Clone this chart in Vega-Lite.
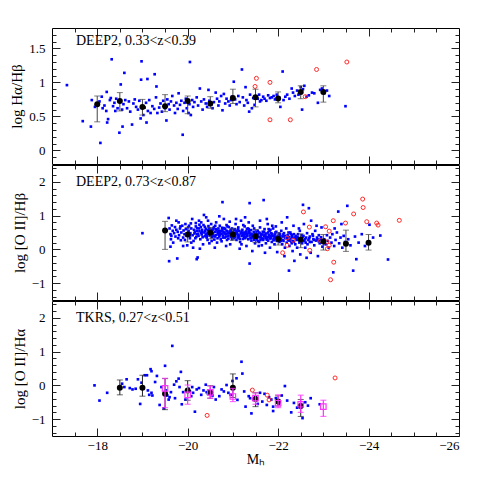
{
"$schema": "https://vega.github.io/schema/vega-lite/v6.json",
"padding": {"left": 9, "top": 27, "right": 26, "bottom": 5},
"spacing": -5,
"config": {
  "view": {"stroke": "black", "strokeWidth": 1},
  "font": "Liberation Serif",
  "axis": {"grid": false, "domain": false, "labelFont": "Liberation Serif", "titleFont": "Liberation Serif", "labelColor": "black", "titleColor": "black", "tickColor": "#222", "tickWidth": 1, "labelFontSize": 13, "titleFontSize": 15, "titleFontWeight": "normal"}
},
"datasets": {
"p1b": [{"m":-17.33,"v":0.96},{"m":-17.68,"v":0.43},{"m":-17.86,"v":0.35},{"m":-18.07,"v":0.11},{"m":-17.88,"v":0.74},{"m":-17.95,"v":0.64},{"m":-18.05,"v":0.72},{"m":-18.1,"v":0.79},{"m":-18.12,"v":0.62},{"m":-18.16,"v":0.66},{"m":-18.2,"v":0.58},{"m":-18.21,"v":0.86},{"m":-18.24,"v":0.46},{"m":-18.22,"v":0.41},{"m":-18.28,"v":0.74},{"m":-18.32,"v":1.34},{"m":-18.3,"v":0.77},{"m":-18.35,"v":0.65},{"m":-18.38,"v":0.7},{"m":-18.4,"v":0.58},{"m":-18.42,"v":0.76},{"m":-18.45,"v":0.62},{"m":-18.49,"v":0.26},{"m":-18.52,"v":0.97},{"m":-18.55,"v":0.6},{"m":-18.56,"v":0.35},{"m":-18.6,"v":1.14},{"m":-18.58,"v":0.68},{"m":-18.62,"v":0.74},{"m":-18.66,"v":0.62},{"m":-18.7,"v":0.72},{"m":-18.73,"v":0.57},{"m":-18.77,"v":0.38},{"m":-18.8,"v":0.69},{"m":-18.83,"v":0.75},{"m":-18.86,"v":0.64},{"m":-18.9,"v":0.6},{"m":-18.93,"v":0.73},{"m":-18.96,"v":0.47},{"m":-18.98,"v":1.31},{"m":-18.97,"v":1.04},{"m":-19.02,"v":0.52},{"m":-19.05,"v":0.63},{"m":-19.08,"v":0.7},{"m":-19.09,"v":0.41},{"m":-19.11,"v":1.05},{"m":-19.12,"v":0.58},{"m":-19.15,"v":0.74},{"m":-19.18,"v":0.55},{"m":-19.22,"v":0.65},{"m":-19.27,"v":1.12},{"m":-19.26,"v":0.61},{"m":-19.3,"v":0.78},{"m":-19.31,"v":0.94},{"m":-19.33,"v":0.55},{"m":-19.37,"v":0.63},{"m":-19.4,"v":0.69},{"m":-19.43,"v":0.57},{"m":-19.46,"v":0.73},{"m":-19.5,"v":0.62},{"m":-19.53,"v":0.44},{"m":-19.55,"v":0.75},{"m":-19.58,"v":0.68},{"m":-19.6,"v":0.6},{"m":-19.63,"v":0.72},{"m":-19.66,"v":0.8},{"m":-19.7,"v":0.66},{"m":-19.72,"v":0.55},{"m":-19.75,"v":0.7},{"m":-19.78,"v":0.61},{"m":-19.8,"v":0.84},{"m":-19.83,"v":0.67},{"m":-19.86,"v":0.73},{"m":-19.89,"v":0.23},{"m":-19.9,"v":0.58},{"m":-19.93,"v":0.7},{"m":-19.96,"v":0.76},{"m":-19.98,"v":0.62},{"m":-20.02,"v":0.55},{"m":-20.05,"v":1.3},{"m":-20.04,"v":0.68},{"m":-20.07,"v":0.52},{"m":-20.1,"v":0.74},{"m":-20.12,"v":0.64},{"m":-20.15,"v":0.71},{"m":-20.2,"v":0.78},{"m":-20.23,"v":0.66},{"m":-20.27,"v":0.91},{"m":-20.3,"v":0.72},{"m":-20.33,"v":0.6},{"m":-20.36,"v":0.75},{"m":-20.4,"v":0.69},{"m":-20.43,"v":0.64},{"m":-20.46,"v":0.89},{"m":-20.48,"v":0.73},{"m":-20.52,"v":0.67},{"m":-20.55,"v":0.62},{"m":-20.58,"v":0.71},{"m":-20.62,"v":0.85},{"m":-20.65,"v":0.76},{"m":-20.68,"v":0.66},{"m":-20.7,"v":0.72},{"m":-20.74,"v":0.8},{"m":-20.77,"v":0.59},{"m":-20.8,"v":0.83},{"m":-20.83,"v":0.69},{"m":-20.86,"v":0.76},{"m":-20.9,"v":0.72},{"m":-20.93,"v":0.66},{"m":-20.96,"v":0.74},{"m":-20.98,"v":0.79},{"m":-21.02,"v":1.01},{"m":-21.05,"v":0.75},{"m":-21.08,"v":0.68},{"m":-21.12,"v":0.8},{"m":-21.15,"v":0.71},{"m":-21.2,"v":1.19},{"m":-21.22,"v":0.78},{"m":-21.25,"v":0.66},{"m":-21.28,"v":0.93},{"m":-21.3,"v":0.74},{"m":-21.33,"v":0.7},{"m":-21.36,"v":0.57},{"m":-21.38,"v":0.82},{"m":-21.42,"v":0.62},{"m":-21.45,"v":0.77},{"m":-21.48,"v":0.67},{"m":-21.55,"v":0.76},{"m":-21.58,"v":0.82},{"m":-21.6,"v":0.72},{"m":-21.63,"v":0.74},{"m":-21.67,"v":0.79},{"m":-21.7,"v":0.76},{"m":-21.74,"v":0.73},{"m":-21.78,"v":0.81},{"m":-21.82,"v":0.77},{"m":-21.86,"v":0.78},{"m":-21.9,"v":0.8},{"m":-21.93,"v":0.75},{"m":-21.97,"v":0.82},{"m":-22.02,"v":0.78},{"m":-22.05,"v":0.64},{"m":-22.1,"v":1.16},{"m":-22.12,"v":0.74},{"m":-22.16,"v":0.79},{"m":-22.2,"v":0.82},{"m":-22.25,"v":0.76},{"m":-22.3,"v":0.91},{"m":-22.33,"v":0.85},{"m":-22.37,"v":0.8},{"m":-22.42,"v":0.88},{"m":-22.45,"v":0.82},{"m":-22.5,"v":0.93},{"m":-22.53,"v":0.6},{"m":-22.55,"v":0.9},{"m":-22.58,"v":0.95},{"m":-22.63,"v":0.79},{"m":-22.68,"v":0.81},{"m":-22.75,"v":0.85},{"m":-22.8,"v":0.84},{"m":-22.88,"v":0.7},{"m":-22.93,"v":0.89},{"m":-22.97,"v":0.91},{"m":-23.02,"v":0.84},{"m":-23.08,"v":0.88},{"m":-23.13,"v":0.8},{"m":-23.49,"v":0.65}],
"p1r": [{"m":-21.52,"v":1.06},{"m":-21.49,"v":0.94},{"m":-21.82,"v":1.0},{"m":-21.82,"v":0.45},{"m":-22.27,"v":0.45},{"m":-22.6,"v":0.79},{"m":-22.85,"v":1.19},{"m":-23.52,"v":1.3}],
"p1e": [{"m":-18.0,"v":0.68,"lo":0.42,"hi":0.8},{"m":-18.5,"v":0.725,"lo":0.58,"hi":0.85},{"m":-19.0,"v":0.64,"lo":0.52,"hi":0.75},{"m":-19.5,"v":0.65,"lo":0.57,"hi":0.82},{"m":-20.0,"v":0.725,"lo":0.54,"hi":0.8},{"m":-20.5,"v":0.69,"lo":0.62,"hi":0.79},{"m":-21.0,"v":0.77,"lo":0.69,"hi":0.9},{"m":-21.5,"v":0.78,"lo":0.64,"hi":0.9},{"m":-22.0,"v":0.765,"lo":0.7,"hi":0.86},{"m":-22.5,"v":0.86,"lo":0.76,"hi":0.95},{"m":-23.0,"v":0.86,"lo":0.71,"hi":0.95}],
"p2b": [{"m":-19.0,"v":0.48},{"m":-19.58,"v":0.93},{"m":-19.59,"v":-0.35},{"m":-19.6,"v":0.62},{"m":-19.62,"v":0.45},{"m":-19.63,"v":0.3},{"m":-19.65,"v":0.71},{"m":-19.67,"v":0.55},{"m":-19.68,"v":0.2},{"m":-19.7,"v":0.48},{"m":-19.72,"v":0.66},{"m":-19.73,"v":0.38},{"m":-19.75,"v":0.58},{"m":-19.77,"v":-0.27},{"m":-19.78,"v":0.52},{"m":-19.8,"v":0.8},{"m":-19.81,"v":0.42},{"m":-19.83,"v":0.62},{"m":-19.85,"v":0.27},{"m":-19.86,"v":0.5},{"m":-19.88,"v":0.7},{"m":-19.9,"v":0.35},{"m":-19.91,"v":0.56},{"m":-19.93,"v":0.45},{"m":-19.95,"v":0.75},{"m":-19.96,"v":0.6},{"m":-19.98,"v":0.4},{"m":-19.99,"v":0.12},{"m":-19.62,"v":0.08},{"m":-19.75,"v":0.85},{"m":-19.9,"v":0.1},
{"m":-20.02,"v":0.55},{"m":-20.03,"v":0.7},{"m":-20.05,"v":0.33},{"m":-20.06,"v":0.48},{"m":-20.08,"v":0.62},{"m":-20.1,"v":0.9},{"m":-20.11,"v":0.42},{"m":-20.13,"v":0.25},{"m":-20.14,"v":0.58},{"m":-20.16,"v":0.51},{"m":-20.18,"v":0.78},{"m":-20.19,"v":0.37},{"m":-20.2,"v":-0.29},{"m":-20.22,"v":-0.24},{"m":-20.21,"v":0.63},{"m":-20.23,"v":0.46},{"m":-20.25,"v":0.85},{"m":-20.26,"v":0.54},{"m":-20.28,"v":0.3},{"m":-20.29,"v":0.66},{"m":-20.31,"v":0.44},{"m":-20.32,"v":0.58},{"m":-20.34,"v":0.15},{"m":-20.35,"v":0.72},{"m":-20.37,"v":0.5},{"m":-20.38,"v":0.39},{"m":-20.4,"v":0.61},{"m":-20.41,"v":0.95},{"m":-20.43,"v":0.47},{"m":-20.44,"v":0.28},{"m":-20.46,"v":0.69},{"m":-20.47,"v":0.53},{"m":-20.49,"v":0.41},{"m":-20.5,"v":0.6},{"m":-20.12,"v":0.05},{"m":-20.27,"v":0.02},{"m":-20.36,"v":1.02},{"m":-20.45,"v":0.85},{"m":-20.08,"v":0.2},{"m":-20.3,"v":0.8},{"m":-20.42,"v":0.35},{"m":-20.18,"v":0.68},{"m":-20.24,"v":0.4},{"m":-20.39,"v":0.55},{"m":-20.48,"v":0.18},
{"m":-20.51,"v":0.45},{"m":-20.52,"v":0.75},{"m":-20.54,"v":0.36},{"m":-20.55,"v":0.58},{"m":-20.56,"v":0.48},{"m":-20.58,"v":0.66},{"m":-20.59,"v":0.29},{"m":-20.6,"v":0.52},{"m":-20.62,"v":0.42},{"m":-20.63,"v":0.8},{"m":-20.64,"v":0.57},{"m":-20.66,"v":0.33},{"m":-20.67,"v":0.48},{"m":-20.68,"v":0.62},{"m":-20.7,"v":0.38},{"m":-20.71,"v":0.7},{"m":-20.72,"v":0.46},{"m":-20.74,"v":0.55},{"m":-20.75,"v":0.24},{"m":-20.77,"v":1.4},{"m":-20.76,"v":0.64},{"m":-20.78,"v":0.41},{"m":-20.79,"v":0.51},{"m":-20.8,"v":0.9},{"m":-20.82,"v":0.35},{"m":-20.83,"v":0.6},{"m":-20.84,"v":0.45},{"m":-20.86,"v":0.72},{"m":-20.87,"v":0.28},{"m":-20.88,"v":0.53},{"m":-20.9,"v":0.4},{"m":-20.91,"v":0.66},{"m":-20.92,"v":0.49},{"m":-20.94,"v":0.15},{"m":-20.95,"v":0.58},{"m":-20.96,"v":0.37},{"m":-20.98,"v":0.62},{"m":-20.99,"v":0.44},{"m":-20.6,"v":0.05},{"m":-20.7,"v":0.98},{"m":-20.85,"v":0.1},{"m":-20.65,"v":0.2},{"m":-20.93,"v":0.82},{"m":-20.57,"v":0.62},{"m":-20.73,"v":0.3},{"m":-20.81,"v":0.5},{"m":-20.97,"v":0.52},{"m":-20.53,"v":0.25},{"m":-20.88,"v":0.68},{"m":-20.69,"v":0.55},
{"m":-21.01,"v":0.5},{"m":-21.02,"v":0.33},{"m":-21.04,"v":0.6},{"m":-21.05,"v":0.42},{"m":-21.06,"v":0.75},{"m":-21.08,"v":0.28},{"m":-21.09,"v":0.52},{"m":-21.1,"v":0.45},{"m":-21.12,"v":0.65},{"m":-21.13,"v":0.38},{"m":-21.14,"v":0.55},{"m":-21.16,"v":0.22},{"m":-21.17,"v":0.47},{"m":-21.18,"v":0.85},{"m":-21.2,"v":0.4},{"m":-21.21,"v":0.58},{"m":-21.22,"v":0.31},{"m":-21.24,"v":0.5},{"m":-21.25,"v":0.43},{"m":-21.26,"v":0.68},{"m":-21.28,"v":0.36},{"m":-21.29,"v":0.53},{"m":-21.3,"v":0.1},{"m":-21.32,"v":0.46},{"m":-21.33,"v":0.62},{"m":-21.34,"v":0.3},{"m":-21.36,"v":0.49},{"m":-21.37,"v":1.37},{"m":-21.37,"v":-0.42},{"m":-21.38,"v":0.41},{"m":-21.4,"v":0.57},{"m":-21.41,"v":0.26},{"m":-21.42,"v":0.44},{"m":-21.44,"v":0.7},{"m":-21.45,"v":0.35},{"m":-21.46,"v":0.52},{"m":-21.48,"v":0.4},{"m":-21.49,"v":0.18},{"m":-21.5,"v":0.48},{"m":-21.15,"v":0.02},{"m":-21.27,"v":0.95},{"m":-21.35,"v":0.8},{"m":-21.43,"v":-0.05},{"m":-21.07,"v":0.9},{"m":-21.19,"v":0.15},{"m":-21.31,"v":0.6},{"m":-21.47,"v":0.62},{"m":-21.11,"v":0.35},{"m":-21.23,"v":0.72},{"m":-21.39,"v":0.33},
{"m":-21.52,"v":0.42},{"m":-21.53,"v":0.3},{"m":-21.55,"v":0.55},{"m":-21.56,"v":0.38},{"m":-21.58,"v":0.22},{"m":-21.59,"v":0.48},{"m":-21.6,"v":0.65},{"m":-21.62,"v":0.35},{"m":-21.63,"v":0.45},{"m":-21.64,"v":0.12},{"m":-21.66,"v":0.52},{"m":-21.67,"v":0.28},{"m":-21.68,"v":1.46},{"m":-21.69,"v":0.4},{"m":-21.7,"v":0.6},{"m":-21.72,"v":0.33},{"m":-21.73,"v":0.18},{"m":-21.74,"v":0.47},{"m":-21.76,"v":0.37},{"m":-21.77,"v":0.75},{"m":-21.78,"v":0.26},{"m":-21.8,"v":0.43},{"m":-21.81,"v":0.55},{"m":-21.82,"v":0.05},{"m":-21.84,"v":0.35},{"m":-21.85,"v":0.48},{"m":-21.86,"v":0.22},{"m":-21.88,"v":0.4},{"m":-21.89,"v":0.62},{"m":-21.9,"v":0.3},{"m":-21.92,"v":0.15},{"m":-21.93,"v":0.44},{"m":-21.94,"v":0.36},{"m":-21.96,"v":0.52},{"m":-21.97,"v":0.25},{"m":-21.98,"v":-0.08},{"m":-21.99,"v":0.4},{"m":-21.6,"v":0.85},{"m":-21.75,"v":0.9},{"m":-21.87,"v":0.7},{"m":-21.57,"v":0.1},{"m":-21.71,"v":-0.1},{"m":-21.83,"v":0.58},{"m":-21.95,"v":0.68},{"m":-21.65,"v":0.32},
{"m":-22.01,"v":0.35},{"m":-22.03,"v":0.22},{"m":-22.04,"v":0.45},{"m":-22.06,"v":0.3},{"m":-22.07,"v":0.55},{"m":-22.09,"v":0.15},{"m":-22.1,"v":0.38},{"m":-22.12,"v":0.25},{"m":-22.13,"v":0.48},{"m":-22.15,"v":0.05},{"m":-22.16,"v":0.33},{"m":-22.18,"v":0.62},{"m":-22.19,"v":0.2},{"m":-22.21,"v":0.42},{"m":-22.22,"v":0.28},{"m":-22.24,"v":-0.63},{"m":-22.24,"v":0.36},{"m":-22.25,"v":0.1},{"m":-22.27,"v":0.5},{"m":-22.28,"v":0.3},{"m":-22.3,"v":0.18},{"m":-22.31,"v":0.43},{"m":-22.33,"v":0.25},{"m":-22.34,"v":0.7},{"m":-22.36,"v":-0.34},{"m":-22.36,"v":0.35},{"m":-22.38,"v":0.15},{"m":-22.39,"v":0.4},{"m":-22.41,"v":0.28},{"m":-22.42,"v":0.05},{"m":-22.44,"v":0.45},{"m":-22.45,"v":0.32},{"m":-22.47,"v":0.2},{"m":-22.48,"v":0.55},{"m":-22.49,"v":-0.15},{"m":-22.08,"v":0.8},{"m":-22.2,"v":0.95},{"m":-22.32,"v":-0.05},{"m":-22.46,"v":0.62},{"m":-22.14,"v":-0.2},
{"m":-22.51,"v":0.3},{"m":-22.53,"v":0.18},{"m":-22.55,"v":1.32},{"m":-22.56,"v":0.4},{"m":-22.58,"v":0.25},{"m":-22.6,"v":0.05},{"m":-22.62,"v":0.35},{"m":-22.64,"v":0.48},{"m":-22.65,"v":0.15},{"m":-22.68,"v":1.22},{"m":-22.67,"v":0.28},{"m":-22.7,"v":0.38},{"m":-22.72,"v":-0.1},{"m":-22.74,"v":0.22},{"m":-22.76,"v":0.45},{"m":-22.78,"v":0.3},{"m":-22.8,"v":0.12},{"m":-22.82,"v":0.55},{"m":-22.84,"v":0.26},{"m":-22.86,"v":0.35},{"m":-22.88,"v":-0.2},{"m":-22.9,"v":0.42},{"m":-22.92,"v":0.18},{"m":-22.94,"v":0.3},{"m":-22.96,"v":0.65},{"m":-22.98,"v":0.08},{"m":-22.57,"v":0.75},{"m":-22.73,"v":0.85},{"m":-22.85,"v":0.7},{"m":-22.63,"v":-0.25},
{"m":-23.02,"v":0.3},{"m":-23.05,"v":0.15},{"m":-23.08,"v":0.42},{"m":-23.1,"v":0.25},{"m":-23.12,"v":0.05},{"m":-23.15,"v":0.35},{"m":-23.18,"v":0.2},{"m":-23.22,"v":-0.68},{"m":-23.2,"v":0.45},{"m":-23.24,"v":0.1},{"m":-23.27,"v":0.28},{"m":-23.3,"v":0.5},{"m":-23.33,"v":1.12},{"m":-23.35,"v":0.18},{"m":-23.38,"v":0.35},{"m":-23.42,"v":0.05},{"m":-23.45,"v":0.4},{"m":-23.48,"v":0.22},{"m":-23.53,"v":1.29},{"m":-23.55,"v":0.3},{"m":-23.6,"v":0.12},{"m":-23.66,"v":-0.63},{"m":-23.7,"v":0.38},{"m":-23.73,"v":-0.29},{"m":-23.78,"v":0.2},{"m":-23.85,"v":0.45},{"m":-23.92,"v":0.1},{"m":-24.02,"v":0.73},{"m":-24.1,"v":0.35},{"m":-24.26,"v":0.41},{"m":-24.43,"v":-0.3},{"m":-23.25,"v":0.62},{"m":-23.4,"v":0.75},
{"m":-20.05,"v":0.41},{"m":-20.15,"v":0.47},{"m":-20.2,"v":0.55},{"m":-20.3,"v":0.49},{"m":-20.33,"v":0.36},{"m":-20.4,"v":0.44},{"m":-20.45,"v":0.57},{"m":-20.55,"v":0.43},{"m":-20.6,"v":0.38},{"m":-20.62,"v":0.6},{"m":-20.68,"v":0.44},{"m":-20.72,"v":0.52},{"m":-20.78,"v":0.35},{"m":-20.82,"v":0.47},{"m":-20.86,"v":0.55},{"m":-20.9,"v":0.32},{"m":-20.95,"v":0.42},{"m":-21.0,"v":0.38},{"m":-21.03,"v":0.46},{"m":-21.08,"v":0.55},{"m":-21.12,"v":0.42},{"m":-21.15,"v":0.31},{"m":-21.2,"v":0.48},{"m":-21.25,"v":0.36},{"m":-21.28,"v":0.45},{"m":-21.32,"v":0.39},{"m":-21.36,"v":0.55},{"m":-21.4,"v":0.34},{"m":-21.45,"v":0.44},{"m":-21.5,"v":0.3},{"m":-21.55,"v":0.46},{"m":-21.58,"v":0.36},{"m":-21.62,"v":0.41},{"m":-21.66,"v":0.32},{"m":-21.7,"v":0.44},{"m":-21.75,"v":0.29},{"m":-21.8,"v":0.36},{"m":-21.85,"v":0.4},{"m":-21.9,"v":0.27},{"m":-21.95,"v":0.34},{"m":-22.0,"v":0.3},{"m":-22.05,"v":0.38},{"m":-22.1,"v":0.28},{"m":-22.15,"v":0.4},{"m":-22.2,"v":0.33},{"m":-22.25,"v":0.26},{"m":-22.3,"v":0.36},{"m":-22.35,"v":0.22},{"m":-22.4,"v":0.33},{"m":-22.5,"v":0.25},{"m":-22.6,"v":0.3},{"m":-22.7,"v":0.22},{"m":-22.8,"v":0.28},{"m":-22.9,"v":0.24},{"m":-20.25,"v":0.62},{"m":-20.5,"v":0.5},{"m":-20.75,"v":0.46},{"m":-21.05,"v":0.36},{"m":-21.3,"v":0.51},{"m":-21.55,"v":0.25},{"m":-21.78,"v":0.5},{"m":-22.03,"v":0.42},{"m":-22.28,"v":0.45},{"m":-22.55,"v":0.38},
{"m":-19.64,"v":0.4},{"m":-19.79,"v":0.33},{"m":-19.84,"v":0.68},{"m":-19.94,"v":0.28},{"m":-20.01,"v":0.65},{"m":-20.07,"v":0.77},{"m":-20.17,"v":0.33},{"m":-20.21,"v":0.45},{"m":-20.26,"v":0.73},{"m":-20.32,"v":0.52},{"m":-20.38,"v":0.67},{"m":-20.43,"v":0.4},{"m":-20.47,"v":0.62},{"m":-20.53,"v":0.55},{"m":-20.57,"v":0.4},{"m":-20.61,"v":0.7},{"m":-20.66,"v":0.51},{"m":-20.71,"v":0.42},{"m":-20.77,"v":0.58},{"m":-20.81,"v":0.63},{"m":-20.85,"v":0.38},{"m":-20.89,"v":0.47},{"m":-20.94,"v":0.53},{"m":-20.98,"v":0.3},{"m":-21.03,"v":0.57},{"m":-21.07,"v":0.48},{"m":-21.11,"v":0.6},{"m":-21.14,"v":0.4},{"m":-21.19,"v":0.52},{"m":-21.23,"v":0.44},{"m":-21.27,"v":0.33},{"m":-21.31,"v":0.42},{"m":-21.35,"v":0.6},{"m":-21.39,"v":0.47},{"m":-21.43,"v":0.38},{"m":-21.47,"v":0.28},{"m":-21.51,"v":0.52},{"m":-21.54,"v":0.4},{"m":-21.58,"v":0.5},{"m":-21.61,"v":0.28},{"m":-21.65,"v":0.44},{"m":-21.69,"v":0.52},{"m":-21.72,"v":0.4},{"m":-21.76,"v":0.3},{"m":-21.79,"v":0.6},{"m":-21.83,"v":0.32},{"m":-21.87,"v":0.45},{"m":-21.91,"v":0.38},{"m":-21.94,"v":0.5},{"m":-21.98,"v":0.33},{"m":-22.02,"v":0.47},{"m":-22.06,"v":0.25},{"m":-22.11,"v":0.44},{"m":-22.17,"v":0.35},{"m":-22.23,"v":0.5},{"m":-22.29,"v":0.24},{"m":-22.35,"v":0.45},{"m":-22.43,"v":0.37},{"m":-22.52,"v":0.42},{"m":-22.61,"v":0.2},{"m":-22.69,"v":0.33},{"m":-22.77,"v":0.4},{"m":-22.87,"v":0.3},{"m":-22.95,"v":0.36}],
"p2r": [{"m":-23.87,"v":1.49},{"m":-23.88,"v":1.24},{"m":-23.67,"v":1.05},{"m":-23.96,"v":0.82},{"m":-24.18,"v":0.78},{"m":-24.21,"v":0.72},{"m":-24.68,"v":0.86},{"m":-23.49,"v":0.78},{"m":-23.22,"v":0.85},{"m":-23.05,"v":0.67},{"m":-22.56,"v":1.11},{"m":-22.69,"v":0.66},{"m":-23.13,"v":0.54},{"m":-22.94,"v":0.26},{"m":-23.08,"v":0.22},{"m":-23.13,"v":0.12},{"m":-23.09,"v":0.02},{"m":-23.23,"v":-0.38},{"m":-23.16,"v":-0.9},{"m":-22.7,"v":-0.03},{"m":-22.2,"v":0.12},{"m":-22.1,"v":-0.1},{"m":-22.2,"v":0.34},{"m":-22.33,"v":0.27}],
"p2e": [{"m":-19.5,"v":0.56,"lo":0.0,"hi":0.83},{"m":-20.0,"v":0.44,"lo":0.22,"hi":0.65},{"m":-20.5,"v":0.49,"lo":0.31,"hi":0.65},{"m":-21.0,"v":0.44,"lo":0.27,"hi":0.61},{"m":-21.5,"v":0.39,"lo":0.2,"hi":0.59},{"m":-22.0,"v":0.31,"lo":0.13,"hi":0.49},{"m":-22.5,"v":0.29,"lo":0.05,"hi":0.46},{"m":-23.0,"v":0.23,"lo":-0.02,"hi":0.44},{"m":-23.5,"v":0.17,"lo":-0.06,"hi":0.57},{"m":-24.0,"v":0.2,"lo":-0.02,"hi":0.44}],
"p3b": [{"m":-17.94,"v":0.0},{"m":-18.05,"v":-0.45},{"m":-18.22,"v":-0.22},{"m":-18.55,"v":0.05},{"m":-18.6,"v":-0.05},{"m":-18.65,"v":0.18},{"m":-18.72,"v":-0.08},{"m":-18.78,"v":-0.12},{"m":-18.85,"v":-0.1},{"m":-18.9,"v":0.18},{"m":-18.95,"v":-0.55},{"m":-18.98,"v":0.08},{"m":-19.02,"v":-0.08},{"m":-19.05,"v":0.3},{"m":-19.1,"v":0.3},{"m":-19.12,"v":-0.15},{"m":-19.15,"v":-0.28},{"m":-19.18,"v":0.48},{"m":-19.2,"v":0.42},{"m":-19.2,"v":-0.22},{"m":-19.22,"v":-0.3},{"m":-19.28,"v":0.1},{"m":-19.32,"v":0.28},{"m":-19.38,"v":-0.58},{"m":-19.42,"v":-0.05},{"m":-19.47,"v":-0.68},{"m":-19.5,"v":0.58},{"m":-19.52,"v":-0.15},{"m":-19.55,"v":-0.3},{"m":-19.58,"v":-0.42},{"m":-19.6,"v":-0.35},{"m":-19.63,"v":-0.2},{"m":-19.66,"v":1.17},{"m":-19.7,"v":0.02},{"m":-19.72,"v":-0.38},{"m":-19.75,"v":0.12},{"m":-19.8,"v":0.2},{"m":-19.82,"v":-0.05},{"m":-19.85,"v":0.4},{"m":-19.87,"v":-0.56},{"m":-19.9,"v":-0.2},{"m":-19.95,"v":-0.42},{"m":-20.02,"v":-0.1},{"m":-20.05,"v":-0.18},{"m":-20.08,"v":-0.32},{"m":-20.1,"v":-0.05},{"m":-20.12,"v":-0.22},{"m":-20.16,"v":-0.78},{"m":-20.2,"v":-0.12},{"m":-20.25,"v":-0.08},{"m":-20.3,"v":-0.28},{"m":-20.35,"v":-0.15},{"m":-20.4,"v":0.02},{"m":-20.42,"v":-0.2},{"m":-20.45,"v":-0.25},{"m":-20.55,"v":-0.3},{"m":-20.58,"v":-0.05},{"m":-20.62,"v":-0.42},{"m":-20.7,"v":-0.32},{"m":-20.75,"v":-0.12},{"m":-20.8,"v":-0.18},{"m":-20.86,"v":0.01},{"m":-20.9,"v":-0.22},{"m":-20.95,"v":-0.28},{"m":-20.99,"v":0.13},{"m":-21.08,"v":0.21},{"m":-21.1,"v":-0.43},{"m":-21.19,"v":0.7},{"m":-21.21,"v":0.35},{"m":-21.25,"v":-0.18},{"m":-21.28,"v":-0.63},{"m":-21.35,"v":-0.32},{"m":-21.38,"v":-0.38},{"m":-21.41,"v":-0.83},{"m":-21.45,"v":-0.42},{"m":-21.5,"v":-0.35},{"m":-21.55,"v":-0.55},{"m":-21.6,"v":-0.22},{"m":-21.65,"v":-0.48},{"m":-21.7,"v":-0.25},{"m":-21.75,"v":-0.58},{"m":-21.8,"v":-0.35},{"m":-21.85,"v":-0.42},{"m":-21.89,"v":-0.63},{"m":-21.89,"v":-0.76},{"m":-21.95,"v":-0.38},{"m":-22.02,"v":-0.55},{"m":-22.08,"v":-0.3},{"m":-22.15,"v":-0.02},{"m":-22.2,"v":-0.45},{"m":-22.29,"v":-0.8},{"m":-22.35,"v":-0.52},{"m":-22.42,"v":-0.66},{"m":-22.54,"v":-0.97},{"m":-22.6,"v":-0.5},{"m":-22.66,"v":-0.6},{"m":-22.72,"v":-0.38},{"m":-22.92,"v":-0.56}],
"p3r": [{"m":-20.43,"v":-0.89},{"m":-21.43,"v":-0.14},{"m":-21.76,"v":-0.29},{"m":-21.8,"v":-0.43},{"m":-23.26,"v":0.22}],
"p3e": [{"m":-18.5,"v":-0.07,"lo":-0.28,"hi":0.16},{"m":-19.0,"v":-0.07,"lo":-0.32,"hi":0.3},{"m":-19.5,"v":-0.25,"lo":-0.72,"hi":0.2},{"m":-20.0,"v":-0.15,"lo":-0.44,"hi":0.14},{"m":-20.5,"v":-0.21,"lo":-0.38,"hi":-0.01},{"m":-21.0,"v":-0.07,"lo":-0.36,"hi":0.34},{"m":-21.5,"v":-0.4,"lo":-0.63,"hi":-0.22},{"m":-22.0,"v":-0.48,"lo":-0.61,"hi":-0.31},{"m":-22.5,"v":-0.61,"lo":-0.92,"hi":-0.42}],
"p3m": [{"m":-19.5,"v":-0.09,"lo":-0.66,"hi":0.21},{"m":-20.0,"v":-0.28,"lo":-0.56,"hi":0.01},{"m":-20.5,"v":-0.21,"lo":-0.38,"hi":-0.02},{"m":-21.0,"v":-0.33,"lo":-0.48,"hi":-0.09},{"m":-21.5,"v":-0.38,"lo":-0.56,"hi":-0.22},{"m":-22.0,"v":-0.53,"lo":-0.66,"hi":-0.28},{"m":-22.5,"v":-0.56,"lo":-0.8,"hi":-0.29},{"m":-23.0,"v":-0.63,"lo":-0.92,"hi":-0.44}],
"t1": [{"m":-17.53,"v":1.61,"t":"DEEP2, 0.33<z<0.39"}],
"t2": [{"m":-17.53,"v":2.0,"t":"DEEP2, 0.73<z<0.87"}],
"t3": [{"m":-17.53,"v":2.0,"t":"TKRS, 0.27<z<0.51"}]
},
"vconcat": [
{
 "width": 407, "height": 136,
 "resolve": {"axis": {"x": "independent", "y": "independent"}},
 "layer": [
  {"data": {"name": "p1b"}, "mark": {"type": "point", "shape": "square", "filled": true, "size": 7, "color": "#0000ff", "opacity": 1},
   "encoding": {"x": {"field": "m", "type": "quantitative", "scale": {"domain": [-17, -26], "nice": false, "zero": false}, "axis": {"orient": "bottom", "values": [-18, -20, -22, -24], "tickSize": -8, "labels": false, "title": null}},
                "y": {"field": "v", "type": "quantitative", "scale": {"domain": [-0.2, 1.8], "nice": false, "zero": false}, "axis": {"orient": "left", "values": [0, 0.5, 1, 1.5], "format": "~g", "tickSize": -8, "labelPadding": 15, "title": "log Hα/Hβ", "titlePadding": 4}}}},
  {"data": {"name": "p1r"}, "mark": {"type": "point", "shape": "circle", "filled": false, "size": 16, "strokeWidth": 1, "color": "#ff2a2a", "opacity": 1},
   "encoding": {"x": {"field": "m", "type": "quantitative", "scale": {"domain": [-17, -26], "nice": false, "zero": false}, "axis": {"orient": "bottom", "values": [-17.5, -18.5, -19, -19.5, -20.5, -21, -21.5, -22.5, -23, -23.5, -24.5, -25, -25.5], "tickSize": -4, "labels": false, "title": null}},
                "y": {"field": "v", "type": "quantitative", "scale": {"domain": [-0.2, 1.8], "nice": false, "zero": false}, "axis": {"orient": "left", "values": [-0.1, 0.1, 0.2, 0.3, 0.4, 0.6, 0.7, 0.8, 0.9, 1.1, 1.2, 1.3, 1.4, 1.6, 1.7], "tickSize": -4, "labels": false, "title": null}}}},
  {"data": {"name": "p1e"}, "mark": {"type": "rule", "color": "#444", "strokeWidth": 1},
   "encoding": {"x": {"field": "m", "type": "quantitative", "scale": {"domain": [-17, -26], "nice": false, "zero": false}, "axis": {"orient": "top", "values": [-18, -20, -22, -24], "tickSize": -8, "labels": false, "title": null}},
                "y": {"field": "lo", "type": "quantitative", "scale": {"domain": [-0.2, 1.8], "nice": false, "zero": false}, "axis": {"orient": "right", "values": [0, 0.5, 1, 1.5], "tickSize": -8, "labels": false, "title": null}},
                "y2": {"field": "hi"}}},
  {"data": {"name": "p1e"}, "mark": {"type": "tick", "orient": "horizontal", "size": 6, "thickness": 1, "color": "#444"},
   "encoding": {"x": {"field": "m", "type": "quantitative", "scale": {"domain": [-17, -26], "nice": false, "zero": false}, "axis": {"orient": "top", "values": [-17.5, -18.5, -19, -19.5, -20.5, -21, -21.5, -22.5, -23, -23.5, -24.5, -25, -25.5], "tickSize": -4, "labels": false, "title": null}},
                "y": {"field": "lo", "type": "quantitative", "scale": {"domain": [-0.2, 1.8], "nice": false, "zero": false}, "axis": {"orient": "right", "values": [-0.1, 0.1, 0.2, 0.3, 0.4, 0.6, 0.7, 0.8, 0.9, 1.1, 1.2, 1.3, 1.4, 1.6, 1.7], "tickSize": -4, "labels": false, "title": null}}}},
  {"data": {"name": "p1e"}, "mark": {"type": "tick", "orient": "horizontal", "size": 6, "thickness": 1, "color": "#444"},
   "encoding": {"x": {"field": "m", "type": "quantitative", "scale": {"domain": [-17, -26], "nice": false, "zero": false}, "axis": null},
                "y": {"field": "hi", "type": "quantitative", "scale": {"domain": [-0.2, 1.8], "nice": false, "zero": false}, "axis": null}}},
  {"data": {"name": "p1e"}, "mark": {"type": "point", "shape": "circle", "filled": true, "size": 36, "color": "black", "opacity": 1},
   "encoding": {"x": {"field": "m", "type": "quantitative", "scale": {"domain": [-17, -26], "nice": false, "zero": false}, "axis": null},
                "y": {"field": "v", "type": "quantitative", "scale": {"domain": [-0.2, 1.8], "nice": false, "zero": false}, "axis": null}}},
  {"data": {"name": "t1"}, "mark": {"type": "text", "align": "left", "baseline": "middle", "font": "Liberation Serif", "fontSize": 14, "color": "black"},
   "encoding": {"x": {"field": "m", "type": "quantitative", "scale": {"domain": [-17, -26], "nice": false, "zero": false}, "axis": null},
                "y": {"field": "v", "type": "quantitative", "scale": {"domain": [-0.2, 1.8], "nice": false, "zero": false}, "axis": null},
                "text": {"field": "t"}}}
 ]
},
{
 "width": 407, "height": 135,
 "resolve": {"axis": {"x": "independent", "y": "independent"}},
 "layer": [
  {"data": {"name": "p2b"}, "mark": {"type": "point", "shape": "square", "filled": true, "size": 7, "color": "#0000ff", "opacity": 1},
   "encoding": {"x": {"field": "m", "type": "quantitative", "scale": {"domain": [-17, -26], "nice": false, "zero": false}, "axis": {"orient": "bottom", "values": [-18, -20, -22, -24], "tickSize": -8, "labels": false, "title": null}},
                "y": {"field": "v", "type": "quantitative", "scale": {"domain": [-1.5, 2.5], "nice": false, "zero": false}, "axis": {"orient": "left", "values": [-1, 0, 1, 2], "format": "~g", "tickSize": -8, "labelPadding": 15, "title": "log [O II]/Hβ", "titlePadding": 4}}}},
  {"data": {"name": "p2r"}, "mark": {"type": "point", "shape": "circle", "filled": false, "size": 16, "strokeWidth": 1, "color": "#ff2a2a", "opacity": 1},
   "encoding": {"x": {"field": "m", "type": "quantitative", "scale": {"domain": [-17, -26], "nice": false, "zero": false}, "axis": {"orient": "bottom", "values": [-17.5, -18.5, -19, -19.5, -20.5, -21, -21.5, -22.5, -23, -23.5, -24.5, -25, -25.5], "tickSize": -4, "labels": false, "title": null}},
                "y": {"field": "v", "type": "quantitative", "scale": {"domain": [-1.5, 2.5], "nice": false, "zero": false}, "axis": {"orient": "left", "values": [-1.4, -1.2, -0.8, -0.6, -0.4, -0.2, 0.2, 0.4, 0.6, 0.8, 1.2, 1.4, 1.6, 1.8, 2.2, 2.4], "tickSize": -4, "labels": false, "title": null}}}},
  {"data": {"name": "p2e"}, "mark": {"type": "rule", "color": "#444", "strokeWidth": 1},
   "encoding": {"x": {"field": "m", "type": "quantitative", "scale": {"domain": [-17, -26], "nice": false, "zero": false}, "axis": {"orient": "top", "values": [-18, -20, -22, -24], "tickSize": -8, "labels": false, "title": null}},
                "y": {"field": "lo", "type": "quantitative", "scale": {"domain": [-1.5, 2.5], "nice": false, "zero": false}, "axis": {"orient": "right", "values": [-1, 0, 1, 2], "tickSize": -8, "labels": false, "title": null}},
                "y2": {"field": "hi"}}},
  {"data": {"name": "p2e"}, "mark": {"type": "tick", "orient": "horizontal", "size": 6, "thickness": 1, "color": "#444"},
   "encoding": {"x": {"field": "m", "type": "quantitative", "scale": {"domain": [-17, -26], "nice": false, "zero": false}, "axis": {"orient": "top", "values": [-17.5, -18.5, -19, -19.5, -20.5, -21, -21.5, -22.5, -23, -23.5, -24.5, -25, -25.5], "tickSize": -4, "labels": false, "title": null}},
                "y": {"field": "lo", "type": "quantitative", "scale": {"domain": [-1.5, 2.5], "nice": false, "zero": false}, "axis": {"orient": "right", "values": [-1.4, -1.2, -0.8, -0.6, -0.4, -0.2, 0.2, 0.4, 0.6, 0.8, 1.2, 1.4, 1.6, 1.8, 2.2, 2.4], "tickSize": -4, "labels": false, "title": null}}}},
  {"data": {"name": "p2e"}, "mark": {"type": "tick", "orient": "horizontal", "size": 6, "thickness": 1, "color": "#444"},
   "encoding": {"x": {"field": "m", "type": "quantitative", "scale": {"domain": [-17, -26], "nice": false, "zero": false}, "axis": null},
                "y": {"field": "hi", "type": "quantitative", "scale": {"domain": [-1.5, 2.5], "nice": false, "zero": false}, "axis": null}}},
  {"data": {"name": "p2e"}, "mark": {"type": "point", "shape": "circle", "filled": true, "size": 36, "color": "black", "opacity": 1},
   "encoding": {"x": {"field": "m", "type": "quantitative", "scale": {"domain": [-17, -26], "nice": false, "zero": false}, "axis": null},
                "y": {"field": "v", "type": "quantitative", "scale": {"domain": [-1.5, 2.5], "nice": false, "zero": false}, "axis": null}}},
  {"data": {"name": "t2"}, "mark": {"type": "text", "align": "left", "baseline": "middle", "font": "Liberation Serif", "fontSize": 14, "color": "black"},
   "encoding": {"x": {"field": "m", "type": "quantitative", "scale": {"domain": [-17, -26], "nice": false, "zero": false}, "axis": null},
                "y": {"field": "v", "type": "quantitative", "scale": {"domain": [-1.5, 2.5], "nice": false, "zero": false}, "axis": null},
                "text": {"field": "t"}}}
 ]
},
{
 "width": 407, "height": 135,
 "resolve": {"axis": {"x": "independent", "y": "independent"}},
 "layer": [
  {"data": {"name": "p3b"}, "mark": {"type": "point", "shape": "square", "filled": true, "size": 7, "color": "#0000ff", "opacity": 1},
   "encoding": {"x": {"field": "m", "type": "quantitative", "scale": {"domain": [-17, -26], "nice": false, "zero": false}, "axis": {"orient": "bottom", "values": [-18, -20, -22, -24, -26], "format": "d", "tickSize": -8, "labelPadding": 11, "title": "Mₕ", "titlePadding": 0, "titleFontSize": 14}},
                "y": {"field": "v", "type": "quantitative", "scale": {"domain": [-1.5, 2.5], "nice": false, "zero": false}, "axis": {"orient": "left", "values": [-1, 0, 1, 2], "format": "~g", "tickSize": -8, "labelPadding": 15, "title": "log [O II]/Hα", "titlePadding": 4}}}},
  {"data": {"name": "p3r"}, "mark": {"type": "point", "shape": "circle", "filled": false, "size": 16, "strokeWidth": 1, "color": "#ff2a2a", "opacity": 1},
   "encoding": {"x": {"field": "m", "type": "quantitative", "scale": {"domain": [-17, -26], "nice": false, "zero": false}, "axis": {"orient": "bottom", "values": [-17.5, -18.5, -19, -19.5, -20.5, -21, -21.5, -22.5, -23, -23.5, -24.5, -25, -25.5], "tickSize": -4, "labels": false, "title": null}},
                "y": {"field": "v", "type": "quantitative", "scale": {"domain": [-1.5, 2.5], "nice": false, "zero": false}, "axis": {"orient": "left", "values": [-1.4, -1.2, -0.8, -0.6, -0.4, -0.2, 0.2, 0.4, 0.6, 0.8, 1.2, 1.4, 1.6, 1.8, 2.2, 2.4], "tickSize": -4, "labels": false, "title": null}}}},
  {"data": {"name": "p3e"}, "mark": {"type": "rule", "color": "#222", "strokeWidth": 1},
   "encoding": {"x": {"field": "m", "type": "quantitative", "scale": {"domain": [-17, -26], "nice": false, "zero": false}, "axis": {"orient": "top", "values": [-18, -20, -22, -24], "tickSize": -8, "labels": false, "title": null}},
                "y": {"field": "lo", "type": "quantitative", "scale": {"domain": [-1.5, 2.5], "nice": false, "zero": false}, "axis": {"orient": "right", "values": [-1, 0, 1, 2], "tickSize": -8, "labels": false, "title": null}},
                "y2": {"field": "hi"}}},
  {"data": {"name": "p3e"}, "mark": {"type": "tick", "orient": "horizontal", "size": 6, "thickness": 1, "color": "#222"},
   "encoding": {"x": {"field": "m", "type": "quantitative", "scale": {"domain": [-17, -26], "nice": false, "zero": false}, "axis": {"orient": "top", "values": [-17.5, -18.5, -19, -19.5, -20.5, -21, -21.5, -22.5, -23, -23.5, -24.5, -25, -25.5], "tickSize": -4, "labels": false, "title": null}},
                "y": {"field": "lo", "type": "quantitative", "scale": {"domain": [-1.5, 2.5], "nice": false, "zero": false}, "axis": {"orient": "right", "values": [-1.4, -1.2, -0.8, -0.6, -0.4, -0.2, 0.2, 0.4, 0.6, 0.8, 1.2, 1.4, 1.6, 1.8, 2.2, 2.4], "tickSize": -4, "labels": false, "title": null}}}},
  {"data": {"name": "p3e"}, "mark": {"type": "tick", "orient": "horizontal", "size": 6, "thickness": 1, "color": "#222"},
   "encoding": {"x": {"field": "m", "type": "quantitative", "scale": {"domain": [-17, -26], "nice": false, "zero": false}, "axis": null},
                "y": {"field": "hi", "type": "quantitative", "scale": {"domain": [-1.5, 2.5], "nice": false, "zero": false}, "axis": null}}},
  {"data": {"name": "p3e"}, "mark": {"type": "point", "shape": "circle", "filled": true, "size": 36, "color": "black", "opacity": 1},
   "encoding": {"x": {"field": "m", "type": "quantitative", "scale": {"domain": [-17, -26], "nice": false, "zero": false}, "axis": null},
                "y": {"field": "v", "type": "quantitative", "scale": {"domain": [-1.5, 2.5], "nice": false, "zero": false}, "axis": null}}},
  {"data": {"name": "p3m"}, "mark": {"type": "rule", "color": "#ff33ff", "strokeWidth": 1.2},
   "encoding": {"x": {"field": "m", "type": "quantitative", "scale": {"domain": [-17, -26], "nice": false, "zero": false}, "axis": null},
                "y": {"field": "lo", "type": "quantitative", "scale": {"domain": [-1.5, 2.5], "nice": false, "zero": false}, "axis": null},
                "y2": {"field": "hi"}}},
  {"data": {"name": "p3m"}, "mark": {"type": "tick", "orient": "horizontal", "size": 6, "thickness": 1.2, "color": "#ff33ff"},
   "encoding": {"x": {"field": "m", "type": "quantitative", "scale": {"domain": [-17, -26], "nice": false, "zero": false}, "axis": null},
                "y": {"field": "lo", "type": "quantitative", "scale": {"domain": [-1.5, 2.5], "nice": false, "zero": false}, "axis": null}}},
  {"data": {"name": "p3m"}, "mark": {"type": "tick", "orient": "horizontal", "size": 6, "thickness": 1.2, "color": "#ff33ff"},
   "encoding": {"x": {"field": "m", "type": "quantitative", "scale": {"domain": [-17, -26], "nice": false, "zero": false}, "axis": null},
                "y": {"field": "hi", "type": "quantitative", "scale": {"domain": [-1.5, 2.5], "nice": false, "zero": false}, "axis": null}}},
  {"data": {"name": "p3m"}, "mark": {"type": "point", "shape": "square", "filled": false, "size": 30, "strokeWidth": 1.2, "color": "#ff33ff", "opacity": 1},
   "encoding": {"x": {"field": "m", "type": "quantitative", "scale": {"domain": [-17, -26], "nice": false, "zero": false}, "axis": null},
                "y": {"field": "v", "type": "quantitative", "scale": {"domain": [-1.5, 2.5], "nice": false, "zero": false}, "axis": null}}},
  {"data": {"name": "t3"}, "mark": {"type": "text", "align": "left", "baseline": "middle", "font": "Liberation Serif", "fontSize": 14, "color": "black"},
   "encoding": {"x": {"field": "m", "type": "quantitative", "scale": {"domain": [-17, -26], "nice": false, "zero": false}, "axis": null},
                "y": {"field": "v", "type": "quantitative", "scale": {"domain": [-1.5, 2.5], "nice": false, "zero": false}, "axis": null},
                "text": {"field": "t"}}}
 ]
}
]
}
